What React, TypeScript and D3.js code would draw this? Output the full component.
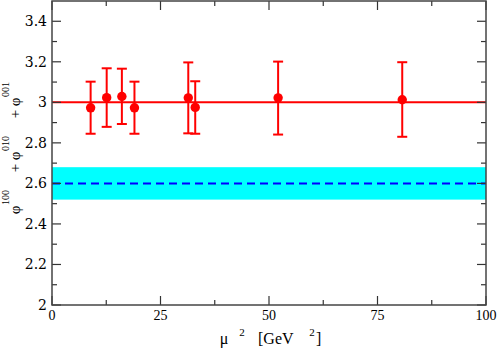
import React from "react";
import * as d3 from "d3";

const muSq = [8.9, 12.6, 16.1, 19.0, 31.4, 33.0, 52.1, 80.7];
const values = [2.973, 3.023, 3.029, 2.973, 3.022, 2.975, 3.022, 3.013];
const errUp = [3.102, 3.168, 3.166, 3.102, 3.197, 3.104, 3.201, 3.198];
const errDown = [2.845, 2.879, 2.893, 2.845, 2.847, 2.845, 2.841, 2.830];
const fitValue = 3.0;
const bandCenter = 2.6;
const bandLow = 2.52;
const bandHigh = 2.68;
const xMajor = [0, 25, 50, 75, 100];
const yMajor = [2, 2.2, 2.4, 2.6, 2.8, 3, 3.2, 3.4];
const yTitleParts = ["100", "010", "001"];

const W = 498, H = 349;
const M = { left: 52, right: 486, top: 1, bottom: 305 };
const FONT_A = "Liberation Serif";
const FONT_B = "DejaVu Serif";

export default function App() {
  const x = d3.scaleLinear().domain([0, 100]).range([M.left, M.right]);
  const y = d3.scaleLinear().domain([2, 3.5]).range([M.bottom, M.top]);
  const xMinor = d3.range(0, 100.01, 12.5).filter((v) => v % 25 !== 0);
  const yMinor = d3.range(2.1, 3.5, 0.2);
  const tickCol = "#333";
  const red = "#ff0000";
  const line = d3.line<[number, number]>().x((d) => x(d[0])).y((d) => y(d[1]));

  return (
    <svg width={W} height={H} style={{ position: "absolute", left: 0, top: 0 }}>
      <rect x={0} y={0} width={W} height={H} fill="#fff" />
      <rect x={x(0)} y={y(bandHigh)} width={x(100) - x(0)} height={y(bandLow) - y(bandHigh)} fill="#00ffff" />
      <path d={line([[0, bandCenter], [100, bandCenter]]) || ""} stroke="#0000ff" strokeWidth={2} strokeDasharray="8,5" fill="none" />
      <path d={line([[0, fitValue], [100, fitValue]]) || ""} stroke={red} strokeWidth={2} fill="none" />
      {muSq.map((m, i) => (
        <g key={i} stroke={red} strokeWidth={2}>
          <line x1={x(m)} x2={x(m)} y1={y(errUp[i])} y2={y(errDown[i])} />
          <line x1={x(m) - 5} x2={x(m) + 5} y1={y(errUp[i])} y2={y(errUp[i])} />
          <line x1={x(m) - 5} x2={x(m) + 5} y1={y(errDown[i])} y2={y(errDown[i])} />
        </g>
      ))}
      {muSq.map((m, i) => (
        <circle key={i} cx={x(m)} cy={y(values[i])} r={4.7} fill={red} />
      ))}
      <g stroke={tickCol} strokeWidth={1.2}>
        {xMajor.map((v) => (
          <g key={"xm" + v}>
            <line x1={x(v)} x2={x(v)} y1={M.bottom} y2={M.bottom - 9} />
            <line x1={x(v)} x2={x(v)} y1={M.top} y2={M.top + 9} />
          </g>
        ))}
        {xMinor.map((v) => (
          <g key={"xn" + v}>
            <line x1={x(v)} x2={x(v)} y1={M.bottom} y2={M.bottom - 5} />
            <line x1={x(v)} x2={x(v)} y1={M.top} y2={M.top + 5} />
          </g>
        ))}
        {yMajor.map((v) => (
          <g key={"ym" + v}>
            <line x1={M.left} x2={M.left + 9} y1={y(v)} y2={y(v)} />
            <line x1={M.right} x2={M.right - 9} y1={y(v)} y2={y(v)} />
          </g>
        ))}
        {yMinor.map((v) => (
          <g key={"yn" + v}>
            <line x1={M.left} x2={M.left + 5} y1={y(v)} y2={y(v)} />
            <line x1={M.right} x2={M.right - 5} y1={y(v)} y2={y(v)} />
          </g>
        ))}
      </g>
      <rect x={M.left} y={M.top} width={M.right - M.left} height={M.bottom - M.top} fill="none" stroke="#444" strokeWidth={1.5} />
      {xMajor.map((v) => (
        <text key={"xl" + v} x={x(v)} y={320} textAnchor="middle" fontSize={14} fontFamily={FONT_A}>{v}</text>
      ))}
      {yMajor.map((v) => (
        <text key={"yl" + v} x={47} y={y(v) + 5} textAnchor="end" fontSize={14} fontFamily={FONT_B}>{v === 2 || v === 3 ? String(v) : v.toFixed(1)}</text>
      ))}
      <g fontFamily={FONT_A}>
        <text x={224} y={344} textAnchor="middle" fontSize={16}>μ</text>
        <text x={242} y={336} textAnchor="middle" fontSize={11}>2</text>
        <text x={258} y={344} textAnchor="start" fontSize={16}>[GeV</text>
        <text x={312} y={336} textAnchor="middle" fontSize={11}>2</text>
        <text x={316} y={344} textAnchor="start" fontSize={16}>]</text>
      </g>
      <g fontFamily={FONT_A}>
        {yTitleParts.map((s, i) => {
          const base = 210 - i * 54;
          return (
            <g key={s}>
              <text transform={`translate(20,${base}) rotate(-90)`} textAnchor="middle" fontSize={15}>φ</text>
              <text transform={`translate(9,${base - 5}) rotate(-90)`} textAnchor="start" fontSize={10}>{s}</text>
              {i < 2 && (
                <text transform={`translate(20,${base - 42}) rotate(-90)`} textAnchor="middle" fontSize={15}>+</text>
              )}
            </g>
          );
        })}
      </g>
    </svg>
  );
}
